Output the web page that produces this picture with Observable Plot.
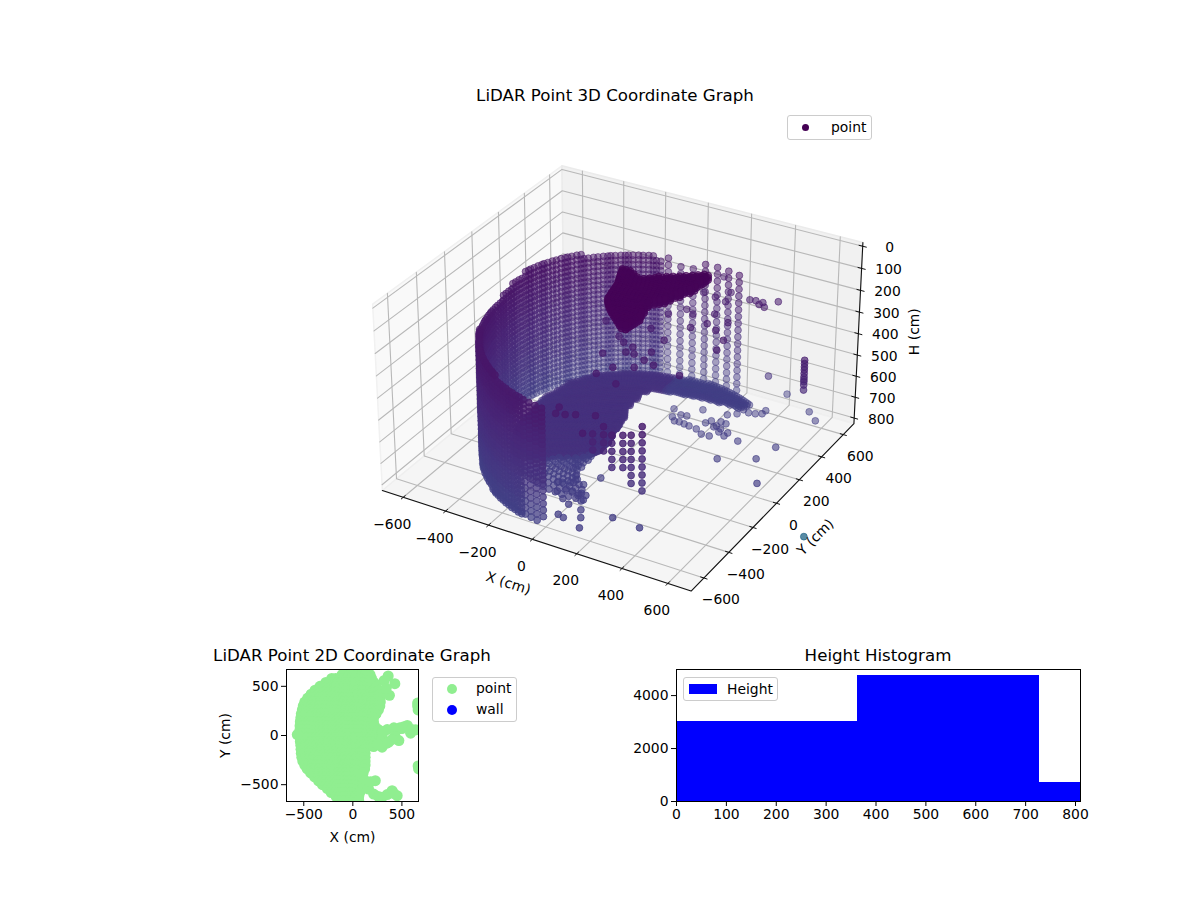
<!DOCTYPE html>
<html><head><meta charset="utf-8">
<script src="https://cdn.jsdelivr.net/npm/d3@7"></script>
<script src="https://cdn.jsdelivr.net/npm/@observablehq/plot@0.6"></script>
<style>
html,body{margin:0;padding:0;background:#fff;font-family:"DejaVu Sans",sans-serif;color:#000}
#page{position:relative;width:1200px;height:900px;overflow:hidden}
.title{position:absolute;font-size:16.67px;line-height:20px;transform:translateX(-50%);white-space:nowrap}
.legend{position:absolute;background:rgba(255,255,255,.8);border:1px solid #ccc;border-radius:3px;box-sizing:border-box;font-size:13.9px}
.legend span{position:absolute;white-space:nowrap;line-height:16px}
.legend i{position:absolute;display:block}
</style></head><body><div id="page"></div>
<script>
// ---------- tick labels ----------
const xyTicks3d = [-600,-400,-200,0,200,400,600];
const hTicks3d = [0,100,200,300,400,500,600,700,800];
const ticks2d = [-500,0,500];
const histXTicks = [0,100,200,300,400,500,600,700,800];
const histYTicks = [0,2000,4000];

// ---------- histogram ----------
const histEdges = [0,363.5,728,810];
const histCounts = [3020,4755,717];

// ---------- 3D cloud: wall columns [angle deg, radius cm, top h, bottom h] ----------
const backWallSparse = [
[72,640,205,790],[77,636,208,790],[82,632,215,795],[87,625,222,795],[92,619,225,795],[97,614,225,800],[102,610,222,800]];
const backWall = [
[105,608,221,800],[108,606,220,800],
[112,603,218,800],[116,600,216,800],[119,598,214,800],[123,596,212,800],[126,594,210,800],[130,592,206,800],[134,590,202,800],[137,588,198,800],[141,586,195,800],
[144,584,192,800],[148,582,190,800],[152,580,190,800],[155,578,190,800],[159,575,190,800],[162,573,195,800],[166,570,205,800],[170,568,215,800],[173,566,225,800],
[177,564,235,800],[180,562,245,800],[184,562,250,800],[188,562,255,800],[191,562,260,800],[195,562,258,800],[198,563,255,800],[202,564,250,800],[206,565,245,800],[209,566,240,800]];
const frontWall = [
[213,568,240,790],[216,570,242,795],[220,572,245,800],[223,574,247,800],[227,576,250,805],[231,578,252,805],[234,580,255,805],[238,583,258,810],[241,586,260,810],[245,589,262,810],[249,592,264,810],[253,596,266,810],[257,600,268,810]];
const frontColumns = [[261,604,270,810],[264,608,272,810],[267,612,275,800],[270,616,278,790]];
const looseColumns = [[289,600,350,448],[293,600,320,448],[296,600,340,515],[300,600,340,535],[303,600,330,585],[307,600,294,640]];
const fineLevels = [0,22,44,66,88,110,132,154,176,198,220,242,264,286,308,330,352,374,396,418,440,462,484,506,528,550,572,594,616,638,660,682,704,726,748,770,792,810];
const coarseLevels = [0,36,72,108,144,180,216,252,288,324,360,396,432,468,504,540,576,612,648,684,720,756,792];
const sparseLevels = [0,32,64,96,128,160,192,224,256,288,320,352,384,416,448,480,512,544,576,608,640,672,704,736,768,800];
const frontLevels = [0,20,40,60,80,100,120,140,160,180,200,220,240,260,280,300,320,340,360,380,400,420,440,460,480,500,520,540,560,580,600,620,640,660,680,700,720,740,760,780,800,810];
const frontColumnLevels = [0,20,40,60,80,100,120,140,160,180,200,220,240,260,280,300,320,340,360,380,400,420,440,460,480,500,520,540,560,580,600,620,650,680,710,740,770,800];
const wallSweeps = [0,1.8];
const floorSweeps = [0,1.3,2.6];

// ---------- floor: [angle deg, outer radius, inner radius] ----------
const floorBack = [
[62,620,560],[66,625,540],[70,625,520],[74,625,505],[78,620,490],[82,620,475],[86,615,465],[90,610,455],[94,605,450],[98,600,450],[102,600,440],[106,598,400],[110,596,340],
[114,594,280],[118,592,180],[122,590,150],[126,585,125],[130,580,110],[134,570,100],[138,560,95],[142,550,90],[146,535,85],[150,520,80],[154,505,75],[158,495,70],[162,485,65],
[166,475,60],[170,465,60],[174,450,60],[178,450,60],[182,450,60],[186,450,60],[190,450,60],[194,450,60],[198,450,60],[202,450,60],[206,450,60],[210,450,60],[214,450,60],
[218,450,60],[222,450,65],[226,400,70],[230,340,75],[234,280,85],[238,230,95],[242,200,105],[245,180,115]];
const floorFront = [[228,470,400],[232,470,340],[236,470,280],[240,470,230],[244,470,190],[248,470,150],[252,470,165],[256,470,200],[260,470,240],[264,470,290],[268,470,330],[272,470,354],[276,470,385],[280,470,400]];
const ringRadius = [60,74,88,102,116,130,144,158,172,186,200,214,228,242,256,270,284,298,312,326,340,354,368,382,396,410,424,438,452,466,480,494,508,522,536,550,564,578,592,606,620,634];
const ringHeight = [755,755,755,755,755,755,755,755,755,755,755,755,755,755,755,755,755,755,755,755,755,755,755,755,755,757,759,761,763,765,767,769,771,773,775,777,778,779,780,780,780,780];

// ---------- ceiling patch rows: [y, x from, x to] and its heights ----------
const ceilingRows = [[240,232,250],[225,212,251],[210,195,251],[195,175,252],[180,155,252],[165,133,252],[150,112,253],[135,85,250],[120,-71,-28],[120,77,243],[105,-65,-5],[105,60,240],[90,-60,19],[90,43,235],
[75,-54,232],[60,-48,228],[45,-42,220],[30,-36,212],[15,-30,208],[0,-24,203],[-15,-21,195],[-30,-18,186],[-45,-15,172],[-60,-11,162],[-75,-8,155],[-90,-4,155],[-105,-1,160],[-120,2,165],[-135,14,170],[-150,25,175],[-165,39,180],[-180,53,185],[-195,69,188],[-210,85,190],[-225,101,186],[-240,117,180],[-255,133,175],[-270,150,170]];
const ceilingHeights = [40,50,60];

// ---------- single stray returns [x,y,h] ----------
const straysUpper = [[-151,126,300],[-42,42,300],[-2,10,300],[49,-6,300],[-30,-107,300],[45,-54,300],[81,-52,300],[139,-74,300],[132,-4,300],[61,-184,300],[29,-257,300],[135,-288,300],[190,-90,300],[37,161,300],[129,104,300],[133,-142,300],
[39,300,300],[84,372,300],[125,349,300],[201,393,300],[170,247,300],[213,308,300],[269,276,300],[281,357,300],[333,221,300],[348,138,300],[75,532,300],[135,521,300],[190,507,300],[172,588,300],[83,693,300],[317,-110,300],
[268,571,300],[293,576,300],[319,554,300],[325,576,300],[348,544,300],[376,614,300],[36,-547,300],[84,-583,300],[119,-564,300],[49,-594,300],[188,-533,300],[211,-667,300]];
const strayColumn = [[660,290,332],[660,290,347],[660,290,362],[660,290,376],[660,290,392],[660,290,408],[660,290,420],[660,290,430],[660,290,445],[660,290,468]];
const straysFloor = [[264,402,760],[295,429,760],[303,471,760],[332,460,760],[360,467,760],[384,481,760],[386,510,760],[398,241,760],[553,275,760],[390,80,760],[525,158,760],[613,-3,760],[545,592,760],[599,540,760],[401,674,760],[388,521,600],
[51,334,760],[99,306,760],[124,311,760],[76,275,760],[99,251,760],[120,254,760],[145,250,760],[170,246,760],[207,240,760],[244,215,760],[279,218,760],[217,301,760],[230,327,760],[267,302,760],[261,290,760],[268,340,760],[293,336,760],[298,265,760],[331,248,760],[293,290,760],[333,276,760],[158,387,760],
[59,-277,760],[244,-501,760],[369,-511,760],[169,-627,760],[137,-563,760],[109,-515,760],[77,-460,760],[50,-412,760],[25,-353,760],[78,-596,760],[49,-586,760],[47,-504,760],[7,-481,760],[-41,-445,760],[11,-415,760],[-18,-413,760],[46,-432,760],[-73,-390,760],[-56,-380,760],[-28,-364,760],
[-127,-155,760],[-95,-210,760],[-67,-258,760],[-35,-313,760],[-19,-341,760]];
const steelPoint = [944,-250,760,1500];

// ---------- 2D footprint: rows [y, x from, x to] and separate clusters [x,y] ----------
const footprintRows = [[660,-60,150],[620,-110,175],[580,-215,190],[540,-275,215],[500,-335,240],[460,-385,265],[420,-425,275],[380,-460,280],[340,-490,280],[300,-505,275],[260,-515,260],[220,-525,235],[180,-530,210],[140,-535,210],[100,-538,220],[60,-538,260],[20,-538,300],[-20,-537,300],[-60,-535,280],[-100,-530,180],[-140,-528,125],[-180,-525,125],[-220,-520,125],[-260,-510,125],[-300,-490,125],[-340,-465,120],[-380,-430,105],[-420,-390,100],[-460,-350,125],[-500,-310,110],[-540,-260,100],[-580,-220,70],[-620,-170,60],[-660,-150,60]];
const footprintClusters = [[360,605],[428,527],[373,408],[320,560],[340,480],[418,78],[555,102],[589,24],[640,58],[469,-51],[366,-68],[298,-119],[212,-112],[350,60],[300,40],[480,80],[500,70],[450,60],[520,90],[600,60],[430,-10],[400,-40],[340,-80],[250,-90],[660,300],[665,260],[660,330],[670,-340],[665,-310],[229,-459],[160,-544],[180,-470],[212,-595],[400,-561],[452,-612],[298,-629],[350,-600],[260,-620],[420,-590],[-566,10]];

// ---------- projection of the 3D box (elevation 30, azimuth -60) ----------
const cmToWorld = 0.000921, hCentre = 405, boxXY = 700, boxTop = -17, boxBottom = 827;
function project(x,y,h){
  const dx=x*cmToWorld, dy=y*cmToWorld, dz=(hCentre-h)*cmToWorld;
  const X=.866025*dx+.5*dy, Y=-.25*dx+.433013*dy+.866025*dz, Z=.433013*dx-.75*dy+.5*dz;
  return {u:X/(10-Z), v:Y/(10-Z), depth:10-Z};
}
const P=(x,y,h,extra)=>Object.assign(project(x,y,h),extra||{});
const rad=Math.PI/180;

const cloud=[];
const add=(x,y,h,c)=>cloud.push(P(x,y,h,{c:c===undefined?h:c}));
function addColumns(rows,levels,sweeps){
  for(const [t,r,top,bot] of rows) for(const s of sweeps) for(const h of levels){
    if(h>=top&&h<=bot) add(r*Math.cos((t+s)*rad),r*Math.sin((t+s)*rad),h);
  }
}
addColumns(backWall,fineLevels,wallSweeps);
addColumns(backWallSparse,sparseLevels,[0]);
addColumns(frontWall,frontLevels,wallSweeps);
addColumns(frontColumns,frontColumnLevels,[0]);
addColumns(looseColumns,coarseLevels,[0]);
const floorTint=t=>t<95?1:.8;
for(const [t,out,inner] of floorBack) for(const s of floorSweeps) ringRadius.forEach((r,i)=>{ if(r>=inner&&r<=out) add(r*Math.cos((t+s)*rad),r*Math.sin((t+s)*rad),ringHeight[i],ringHeight[i]*floorTint(t)); });
for(const [t,out,inner] of floorFront) ringRadius.forEach((r,i)=>{ if(i%2==0&&r>=inner&&r<=out) add(r*Math.cos(t*rad),r*Math.sin(t*rad),ringHeight[i]); });
for(const [y,a,b] of ceilingRows) for(const h of ceilingHeights) for(let x=a;x<=b;x+=18) add(x,y,h);
for(const s of [...straysUpper,...strayColumn,...straysFloor]) add(s[0],s[1],s[2]);
add(...steelPoint);
const dmin=d3.min(cloud,d=>d.depth), dmax=d3.max(cloud,d=>d.depth);
cloud.forEach(d=>{d.a=.88*(1-.55*(d.depth-dmin)/(dmax-dmin));});
cloud.sort((p,q)=>q.depth-p.depth);

// ---------- box geometry ----------
const B=boxXY;
const paneLeft=[P(-B,-B,boxTop),P(-B,B,boxTop),P(-B,B,boxBottom),P(-B,-B,boxBottom)];
const paneBack=[P(-B,B,boxTop),P(B,B,boxTop),P(B,B,boxBottom),P(-B,B,boxBottom)];
const paneFloor=[P(-B,-B,boxBottom),P(B,-B,boxBottom),P(B,B,boxBottom),P(-B,B,boxBottom)];
const grid=[];
let gid=0;
const poly=(arr,pts)=>{gid++;pts.forEach(p=>arr.push(Object.assign(p,{id:gid})));};
for(const t of xyTicks3d){
  poly(grid,[P(t,-B,boxBottom),P(t,B,boxBottom),P(t,B,boxTop)]);
  poly(grid,[P(B,t,boxBottom),P(-B,t,boxBottom),P(-B,t,boxTop)]);
}
for(const h of hTicks3d) poly(grid,[P(-B,-B,h),P(-B,B,h),P(B,B,h)]);
const axisLines=[];
poly(axisLines,[P(-B,-B,boxBottom),P(B,-B,boxBottom),P(B,B,boxBottom),P(B,B,boxTop)]);
const tickMarks=[];
for(const t of xyTicks3d){
  poly(tickMarks,[P(t,-B-14,boxBottom),P(t,-B+14,boxBottom)]);
  poly(tickMarks,[P(B-14,t,boxBottom),P(B+14,t,boxBottom)]);
}
for(const h of hTicks3d) poly(tickMarks,[P(B-16,B,h),P(B+16,B,h)]);
const fmt=d3.format("d");
const xLabels=xyTicks3d.map(t=>P(t,-B,boxBottom,{text:fmt(t)}));
const yLabels=xyTicks3d.map(t=>P(B,t,boxBottom,{text:fmt(t)}));
const hLabels=hTicks3d.map(h=>P(B,B,h,{text:fmt(h)}));
const font={fontFamily:'"DejaVu Sans"',fontSize:"13.9px",background:"transparent",overflow:"visible"};

const page=document.getElementById("page");
function place(node,l,t){node.style.position="absolute";node.style.left=l+"px";node.style.top=t+"px";node.style.maxWidth="none";page.appendChild(node);}
function title(s,cx,cy){const d=document.createElement("div");d.className="title";d.textContent=s;d.style.left=cx+"px";d.style.top=(cy-10)+"px";page.appendChild(d);}

// ---------- 3D ----------
const domain3=[-.095,.09];
place(Plot.plot({
  width:1200,height:640,margin:0,style:font,
  x:{domain:domain3,range:[363.2,867.9],axis:null},
  y:{domain:domain3,range:[625,120.3],axis:null},
  color:{type:"linear",scheme:"viridis",domain:[0,4200]},
  marks:[
    Plot.line(paneLeft,{x:"u",y:"v",fill:"#f9f9f9",stroke:"#f1f1f1",strokeWidth:1.5,curve:"linear-closed"}),
    Plot.line(paneBack,{x:"u",y:"v",fill:"#f1f1f1",stroke:"#ebebeb",strokeWidth:1.5,curve:"linear-closed"}),
    Plot.line(paneFloor,{x:"u",y:"v",fill:"#f5f5f5",stroke:"#efefef",strokeWidth:1.5,curve:"linear-closed"}),
    Plot.line(grid,{x:"u",y:"v",z:"id",stroke:"#b8b8b8",strokeWidth:1.1}),
    Plot.line(axisLines,{x:"u",y:"v",z:"id",stroke:"#111",strokeWidth:1.1}),
    Plot.line(tickMarks,{x:"u",y:"v",z:"id",stroke:"#111",strokeWidth:1}),
    Plot.dot(cloud,{x:"u",y:"v",r:3.4,fill:"c",stroke:"c",strokeWidth:1,fillOpacity:"a",strokeOpacity:"a"}),
    Plot.text(xLabels,{x:"u",y:"v",text:"text",dx:-11,dy:27,fontSize:13.9}),
    Plot.text(yLabels,{x:"u",y:"v",text:"text",dx:17,dy:22,fontSize:13.9}),
    Plot.text(hLabels,{x:"u",y:"v",text:"text",dx:27,dy:1,fontSize:13.9}),
    Plot.text([P(0,-B,boxBottom,{text:"X (cm)"})],{x:"u",y:"v",text:"text",dx:-24,dy:44,rotate:18,fontSize:13.9}),
    Plot.text([P(B,0,boxBottom,{text:"Y (cm)"})],{x:"u",y:"v",text:"text",dx:39,dy:34,rotate:-45,fontSize:13.9}),
    Plot.text([P(B,B,400,{text:"H (cm)"})],{x:"u",y:"v",text:"text",dx:56,dy:-2,rotate:-90,fontSize:13.9})
  ]
}),0,0);
title("LiDAR Point 3D Coordinate Graph",615,96);

// ---------- 2D ----------
const pts2=[];
for(const [y,a,b] of footprintRows) for(let x=a;x<=b;x+=40) pts2.push([x,y]);
for(const [y,a,b] of footprintRows) pts2.push([b,y]);
for(const c of footprintClusters) pts2.push(c);
place(Plot.plot({
  width:340,height:210,marginLeft:86,marginRight:122,marginTop:29,marginBottom:49,style:font,
  x:{domain:[-676,669]},y:{domain:[-671,671]},
  marks:[
    Plot.dot(pts2,{x:d=>d[0],y:d=>d[1],r:5.5,fill:"#90ee90",clip:true}),
    Plot.frame({stroke:"#000",strokeWidth:1}),
    Plot.axisX({ticks:ticks2d,tickSize:5,tickPadding:3,label:"X (cm)",labelAnchor:"center",labelOffset:40,labelArrow:"none",fontSize:13.9}),
    Plot.axisY({ticks:ticks2d,tickSize:5,tickPadding:3,label:"Y (cm)",labelAnchor:"center",labelOffset:66,labelArrow:"none",fontSize:13.9})
  ]
}),200,640);
title("LiDAR Point 2D Coordinate Graph",352,656);

// ---------- histogram ----------
const bins=histCounts.map((n,i)=>({a:histEdges[i],b:histEdges[i+1],n}));
place(Plot.plot({
  width:450,height:200,marginLeft:26,marginRight:20,marginTop:29,marginBottom:39,style:font,
  x:{domain:[0,810]},y:{domain:[0,4985]},
  marks:[
    Plot.rect(bins,{x1:"a",x2:"b",y1:0,y2:"n",fill:"#0000ff",shapeRendering:"crispEdges"}),
    Plot.frame({stroke:"#000",strokeWidth:1}),
    Plot.axisX({ticks:histXTicks,tickSize:5,tickPadding:3,label:null,fontSize:13.9}),
    Plot.axisY({ticks:histYTicks,tickSize:5,tickPadding:3,label:null,fontSize:13.9,tickFormat:"d"})
  ]
}),650,640);
title("Height Histogram",878,656);

// ---------- legends ----------
function legend(l,t,w,h,items){
  const d=document.createElement("div");d.className="legend";
  Object.assign(d.style,{left:l+"px",top:t+"px",width:w+"px",height:h+"px"});
  for(const it of items){
    const i=document.createElement("i");
    if(it.swatch){Object.assign(i.style,{left:it.sx+"px",top:it.sy+"px",width:"28px",height:"10px",background:it.color});}
    else Object.assign(i.style,{left:it.sx+"px",top:it.sy+"px",width:it.sz+"px",height:it.sz+"px",borderRadius:"50%",background:it.color});
    d.appendChild(i);
    const s=document.createElement("span");s.textContent=it.text;s.style.left=it.tx+"px";s.style.top=it.ty+"px";d.appendChild(s);
  }
  page.appendChild(d);
}
legend(787,115,85,25,[{color:"#440154",text:"point",sx:14,sy:8,sz:7,tx:43,ty:3}]);
legend(432,677,85,45,[{color:"#90ee90",text:"point",sx:14,sy:6,sz:10,tx:43,ty:2},{color:"#0000ff",text:"wall",sx:14,sy:27,sz:10,tx:43,ty:23}]);
legend(683,677,95,24,[{swatch:true,color:"#0000ff",text:"Height",sx:5,sy:6,tx:43,ty:3}]);
</script></body></html>
